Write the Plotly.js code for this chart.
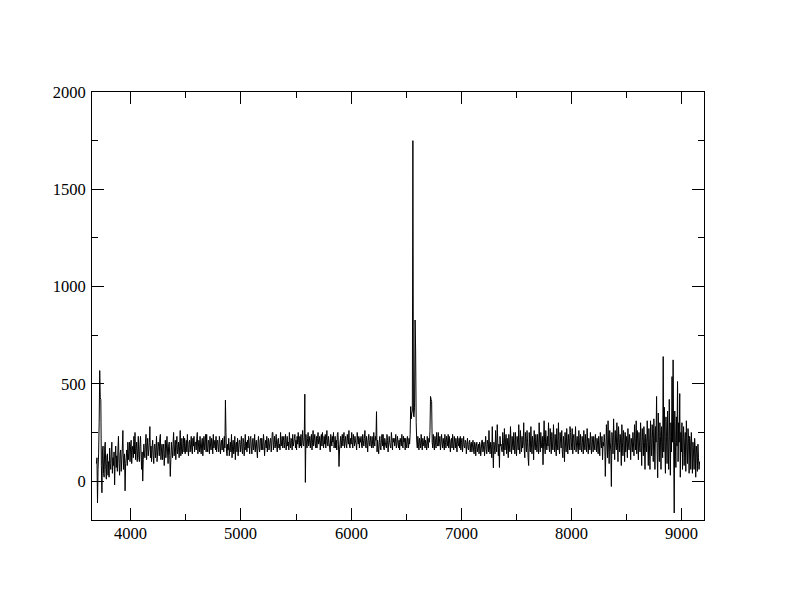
<!DOCTYPE html>
<html>
<head>
<meta charset="utf-8">
<script src="https://cdn.plot.ly/plotly-3.0.1.min.js"></script>
<style>html,body{margin:0;padding:0;background:#fff;}#chart{width:792px;height:612px;}</style>
</head>
<body>
<div id="chart"></div>
<script>
// Spectrum sampled on a 5 Å grid starting at 3690 Å (20 samples = 100 Å per row)
const waveStart = 3690;
const waveStep = 5;
// Flux values
const flux = [
  90, 120, -112, 60, 140, 300, 568, 428, 420, 80, -60, 150, 180, 40, 20, 170, 200, 60, 10, 130,
  140, 30, 100, 20, 170, 90, 60, 150, 200, 40, 120, 80, 150, -20, 110, 180, 70, 130, 50, 160,
  230, 90, 30, 140, 160, 50, 110, 170, 260, 60, 120, 140, -50, 90, 120, 160, 80, 200, 110, 150,
  200, 100, 180, 210, 90, 160, 180, 120, 230, 140, 250, 110, 170, 200, 100, 150, 230, 120, 100, 190,
  230, 140, 60, 150, 0, 110, 190, 140, 120, 200, 240, 110, 170, 220, 130, 160, 200, 280, 120, 180,
  100, 170, 210, 130, 90, 180, 190, 120, 160, 230, 100, 150, 200, 180, 130, 220, 240, 110, 160, 190,
  110, 170, 190, 80, 140, 210, 120, 170, 230, 150, 90, 180, 200, 130, 24, 110, 200, 150, 120, 190,
  250, 130, 170, 210, 110, 190, 230, 140, 160, 200, 120, 180, 260, 130, 150, 220, 140, 170, 230, 150,
  220, 140, 180, 210, 150, 240, 170, 130, 200, 210, 150, 190, 230, 160, 140, 220, 180, 230, 150, 200,
  200, 160, 220, 250, 140, 180, 210, 150, 230, 170, 140, 200, 220, 130, 180, 230, 160, 200, 240, 150,
  240, 170, 150, 210, 200, 140, 230, 180, 160, 220, 200, 140, 240, 170, 190, 210, 160, 230, 150, 200,
  210, 170, 150, 230, 200, 140, 190, 210, 160, 220, 180, 150, 230, 170, 416, 250, 150, 130, 190, 160,
  220, 130, 170, 200, 150, 240, 120, 180, 210, 140, 160, 230, 110, 190, 200, 150, 220, 130, 170, 210,
  210, 150, 190, 230, 160, 140, 220, 200, 130, 180, 240, 160, 200, 150, 210, 170, 230, 190, 140, 220,
  230, 170, 140, 200, 220, 160, 180, 240, 150, 190, 210, 160, 120, 200, 230, 170, 150, 210, 220, 160,
  220, 180, 160, 240, 200, 130, 190, 210, 170, 230, 150, 200, 220, 160, 180, 210, 220, 150, 190, 250,
  250, 160, 200, 230, 170, 190, 240, 180, 150, 210, 220, 170, 190, 160, 250, 180, 200, 230, 170, 210,
  230, 170, 200, 240, 160, 190, 230, 180, 200, 160, 250, 190, 170, 220, 210, 160, 240, 180, 200, 220,
  240, 170, 210, 160, 230, 190, 250, 200, 170, 230, 180, 240, 170, 200, 260, 190, 180, 230, 447, -7,
  240, 190, 170, 220, 250, 180, 200, 230, 170, 210, 240, 160, 200, 260, 180, 210, 240, 190, 170, 230,
  170, 220, 250, 190, 200, 230, 160, 210, 240, 180, 250, 200, 170, 230, 190, 240, 170, 210, 260, 190,
  180, 230, 200, 170, 150, 240, 210, 180, 230, 200, 250, 170, 190, 230, 170, 210, 160, 240, 250, 190,
  75, 160, 200, 230, 170, 210, 240, 180, 220, 250, 170, 200, 230, 190, 170, 240, 210, 190, 260, 180,
  170, 220, 190, 250, 200, 170, 240, 210, 180, 230, 200, 190, 160, 250, 210, 190, 230, 170, 220, 200,
  230, 180, 170, 240, 210, 180, 220, 260, 190, 170, 230, 200, 150, 210, 240, 190, 180, 230, 200, 170,
  230, 190, 170, 250, 200, 180, 230, 210, 357, 150, 210, 170, 140, 200, 230, 170, 160, 220, 240, 180,
  240, 170, 160, 220, 200, 180, 170, 240, 210, 150, 190, 230, 200, 180, 170, 250, 210, 160, 220, 200,
  220, 180, 200, 240, 170, 190, 230, 200, 170, 210, 160, 220, 200, 180, 240, 190, 170, 230, 200, 220,
  160, 220, 190, 170, 230, 200, 170, 220, 190, 240, 383, 320, 350, 360, 1750, 340, 330, 380, 828, 674,
  300, 200, 170, 230, 190, 160, 220, 200, 170, 240, 190, 160, 220, 200, 180, 230, 170, 210, 190, 160,
  230, 190, 170, 220, 200, 260, 435, 420, 409, 200, 170, 240, 190, 160, 230, 200, 170, 250, 190, 180,
  250, 180, 200, 230, 160, 190, 240, 200, 170, 220, 190, 160, 240, 200, 170, 230, 210, 180, 240, 170,
  230, 190, 150, 210, 220, 170, 240, 190, 160, 230, 200, 170, 220, 190, 150, 230, 200, 180, 220, 170,
  230, 160, 200, 220, 150, 190, 230, 180, 170, 210, 200, 140, 190, 220, 170, 160, 200, 210, 150, 190,
  200, 150, 180, 210, 160, 140, 200, 190, 130, 180, 200, 150, 170, 190, 140, 200, 180, 130, 160, 210,
  210, 150, 170, 200, 130, 180, 230, 160, 140, 210, 190, 150, 260, 170, 140, 200, 180, 120, 280, 160,
  68, 200, 170, 140, 260, 180, 150, 290, 200, 130, 190, 70, 230, 180, 190, 160, 150, 250, 200, 130,
  270, 160, 200, 240, 140, 220, 180, 120, 240, 190, 150, 280, 200, 140, 230, 180, 160, 250, 190, 140,
  250, 170, 130, 230, 200, 160, 290, 180, 140, 260, 200, 150, 230, 170, 190, 300, 160, 120, 250, 200,
  150, 260, 200, 120, 80, 250, 180, 150, 280, 190, 140, 230, 200, 110, 260, 180, 160, 240, 190, 150,
  240, 170, 140, 300, 200, 150, 250, 190, 170, 230, 84, 200, 310, 180, 140, 260, 200, 160, 230, 180,
  300, 170, 150, 270, 200, 140, 250, 190, 160, 290, 200, 150, 240, 180, 130, 270, 190, 160, 300, 180,
  140, 250, 200, 170, 260, 150, 120, 230, 190, 100, 250, 180, 150, 270, 200, 140, 240, 190, 160, 280,
  250, 160, 200, 270, 140, 220, 240, 160, 190, 280, 150, 200, 230, 170, 140, 260, 200, 160, 240, 180,
  150, 230, 200, 140, 260, 190, 160, 240, 180, 150, 270, 200, 140, 220, 190, 160, 250, 180, 140, 230,
  200, 150, 230, 190, 160, 240, 200, 150, 220, 190, 140, 230, 180, 130, 250, 200, 170, 230, 110, 200,
  180, 240, 200, 24, 150, 290, 200, 120, 310, 180, 90, 260, 200, 150, -28, 250, 200, 140, 320, 200,
  110, 260, 190, 160, 300, 200, 100, 280, 220, 150, 240, 190, 80, 290, 200, 130, 260, 210, 100, 250,
  150, 230, 200, 120, 270, 190, 160, 240, 200, 110, 220, 190, 150, 250, 200, 130, 290, 200, 160, 310,
  140, 260, 200, 110, 250, 190, 150, 300, 200, 80, 270, 210, 130, 280, 200, 60, 240, 200, 150, 310,
  200, 80, 270, 190, 60, 310, 200, 130, 290, 220, 100, 320, 210, 60, 280, 200, 435, 150, 17, 350,
  200, 100, 300, 230, 60, 280, 200, 120, 640, 150, 380, 200, 40, 330, 230, 90, 360, 180, 60, 420,
  200, 30, 300, 150, 537, 200, 623, 150, -164, 360, 200, 70, 330, 180, 512, 100, 300, 200, 450, 20,
  250, 150, 300, 60, 220, 280, 80, 200, 250, 50, 310, 180, 90, 270, 220, 40, 230, 200, 60, 250,
  180, 40, 200, 150, 60, 220, 170, 20, 180, 150, 50, 190, 120, 60, 100
];

const wavelength = flux.map((_, i) => waveStart + i * waveStep);

const xTickVals = [4000, 5000, 6000, 7000, 8000, 9000];
const yTickVals = [0, 500, 1000, 1500, 2000];

const tickFont = {family: 'Liberation Serif', size: 16.5, color: '#000'};

const trace = {
  x: wavelength,
  y: flux,
  type: 'scatter',
  mode: 'lines',
  line: {color: '#000', width: 1, simplify: false},
  hoverinfo: 'skip'
};

// x tick labels drawn as text just under the axis, positioned by the x scale
const xLabelAnnotations = xTickVals.map(v => ({
  x: v, xref: 'x',
  y: 0, yref: 'paper',
  yanchor: 'top', xanchor: 'center',
  yshift: -3,
  text: String(v),
  showarrow: false,
  borderpad: 0,
  font: tickFont
}));

const layout = {
  width: 792,
  height: 612,
  margin: {l: 92, r: 88, t: 92, b: 92, pad: 0},
  paper_bgcolor: '#fff',
  plot_bgcolor: '#fff',
  showlegend: false,
  font: tickFont,
  annotations: xLabelAnnotations,
  xaxis: {
    range: [3650, 9200],
    tickmode: 'array',
    tickvals: xTickVals,
    showticklabels: false,
    ticks: 'inside',
    ticklen: 12,
    tickwidth: 1,
    tickcolor: '#000',
    minor: {dtick: 500, tick0: 0, ticks: 'inside', ticklen: 6, tickwidth: 1, tickcolor: '#000', showgrid: false},
    showline: true,
    linecolor: '#000',
    linewidth: 1,
    mirror: 'ticks',
    showgrid: false,
    zeroline: false
  },
  yaxis: {
    range: [-200, 2000],
    tickmode: 'array',
    tickvals: yTickVals,
    ticktext: yTickVals.map(String),
    ticks: 'inside',
    ticklen: 12,
    tickwidth: 1,
    tickcolor: '#000',
    minor: {dtick: 250, tick0: 0, ticks: 'inside', ticklen: 6, tickwidth: 1, tickcolor: '#000', showgrid: false},
    showline: true,
    linecolor: '#000',
    linewidth: 1,
    mirror: 'ticks',
    showgrid: false,
    zeroline: false,
    tickfont: tickFont,
    ticklabelstandoff: 2
  }
};

Plotly.newPlot('chart', [trace], layout, {staticPlot: true, displayModeBar: false});
</script>
</body>
</html>
